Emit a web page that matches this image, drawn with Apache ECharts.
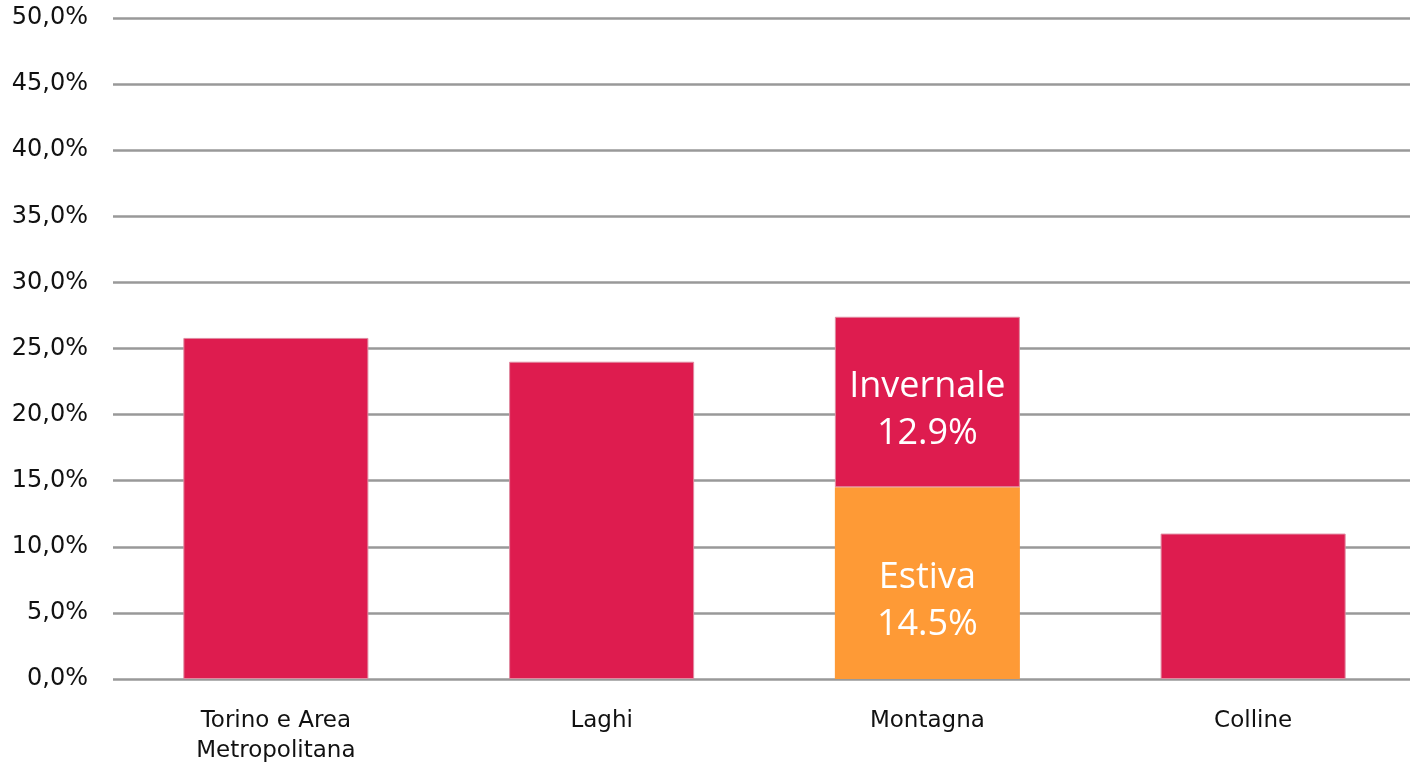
<!DOCTYPE html>
<html>
<head>
<meta charset="utf-8">
<script src="https://cdn.jsdelivr.net/npm/echarts@6/dist/echarts.min.js"></script>
<style>
  html, body { margin: 0; padding: 0; background: #fff; overflow: hidden; }
  #chart { width: 1416px; height: 766px; }
</style>
</head>
<body>
<div id="chart"></div>
<script>
// Quota per area turistica (valori percentuali)
const categories = ['Torino e Area\nMetropolitana', 'Laghi', 'Montagna', 'Colline'];
const totale = [25.8, 24.0, '-', 11.0];
const estiva = ['-', '-', 14.5, '-'];
const invernale = ['-', '-', 12.9, '-'];
const yMin = 0, yMax = 50, yStep = 5;

const red = '#DE1C4F';
const orange = '#FE9A36';

const chart = echarts.init(document.getElementById('chart'));

const insideLabel = (name, dy) => ({
  show: true,
  position: 'inside',
  offset: [0, dy],
  color: '#ffffff',
  fontFamily: 'Open Sans',
  fontSize: 36,
  lineHeight: 47,
  formatter: (p) => name + '\n' + String(p.value) + '%'
});

chart.setOption({
  animation: false,
  grid: { left: 113, right: 0, top: 18, bottom: 87, containLabel: false },
  xAxis: {
    type: 'category',
    data: categories,
    axisLine: { show: false },
    axisTick: { show: false },
    axisLabel: {
      color: '#111',
      fontFamily: 'DejaVu Sans',
      fontSize: 23,
      lineHeight: 30,
      margin: 27,
      interval: 0
    }
  },
  yAxis: {
    type: 'value',
    min: yMin,
    max: yMax,
    interval: yStep,
    axisLine: { show: false },
    axisTick: { show: false },
    axisLabel: {
      color: '#111',
      fontFamily: 'DejaVu Sans',
      fontSize: 24,
      margin: 25,
      formatter: (v) => v.toFixed(1).replace('.', ',') + '%'
    },
    splitLine: { lineStyle: { color: '#999999', width: 2.5 } }
  },
  series: [
    {
      name: 'Estiva', type: 'bar', stack: 'area', data: estiva, barWidth: '56.8%',
      itemStyle: { color: orange },
      label: insideLabel('Estiva', 18)
    },
    {
      name: 'Invernale', type: 'bar', stack: 'area', data: invernale,
      itemStyle: { color: red, borderColor: '#e08aa0', borderWidth: 1 },
      label: insideLabel('Invernale', 8)
    },
    {
      name: 'Totale', type: 'bar', stack: 'area', data: totale,
      itemStyle: { color: red, borderColor: '#e08aa0', borderWidth: 1 }
    }
  ]
});
</script>
</body>
</html>
